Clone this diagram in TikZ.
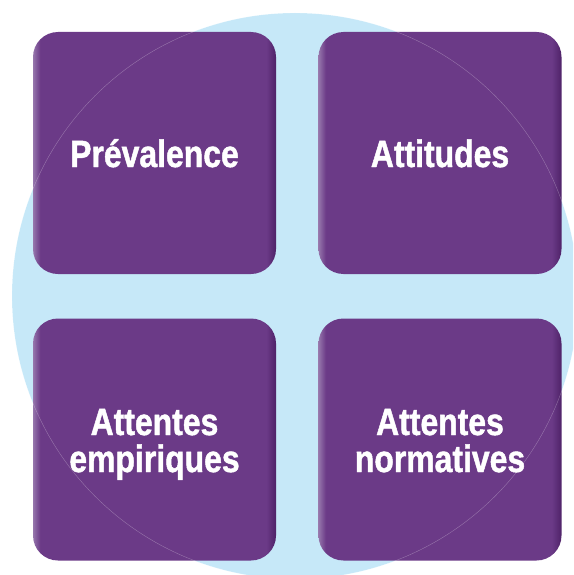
\documentclass[tikz,border=0pt]{standalone}
\usepackage{fontspec}
\newfontfamily\labelfont{Liberation Sans Bold}[FakeStretch=0.84, FakeBold=1.2]
\definecolor{discblue}{RGB}{198,232,248}
\definecolor{tilepurple}{RGB}{107,58,135}
\definecolor{tilelight}{RGB}{150,118,172}
\definecolor{tiledark}{RGB}{78,34,104}
\pgfdeclarehorizontalshading{tileshade}{100bp}{color(0bp)=(tilelight); color(25bp)=(tilelight); color(26.5bp)=(tilepurple); color(73bp)=(tilepurple); color(75bp)=(tiledark); color(100bp)=(tiledark)}
\tikzset{
  tile/.style={rectangle, rounded corners=25pt, minimum width=243pt, minimum height=242pt,
    shading=tileshade, inner sep=0pt},
  tilelabel/.style={text=white, font=\labelfont\fontsize{38}{37}\selectfont, align=center,
    anchor=base, inner sep=0pt},
}
\begin{document}
\begin{tikzpicture}[x=1pt, y=-1pt]
	\useasboundingbox (0,0) rectangle (573,575);
	\begin{scope}
		\clip (0,0) rectangle (573,575);
		\fill[discblue] (295,296) circle (283);
	\end{scope}
	\node[tile] (prev) at (154.5,153) {};
	\node[tile] (att)  at (440,153) {};
	\node[tile] (emp)  at (154.5,439.5) {};
	\node[tile] (norm) at (440,439.5) {};
	% faint rim of the disc over the tiles
	\begin{scope}
		\clip (0,0) rectangle (573,575);
		\draw[white, opacity=0.3, line width=0.4pt] (295,296) circle (283);
	\end{scope}
	% base anchor sits on the last line
	\node[tilelabel] (prevtext) at (prev.center |- 0,167) {Prévalence};
	\node[tilelabel] (atttext) at (att.center |- 0,167) {Attitudes};
	\node[tilelabel] (emptext) at (emp.center |- 0,472) {Attentes\\empiriques};
	\node[tilelabel] (normtext) at (norm.center |- 0,472) {Attentes\\normatives};
\end{tikzpicture}
\end{document}
